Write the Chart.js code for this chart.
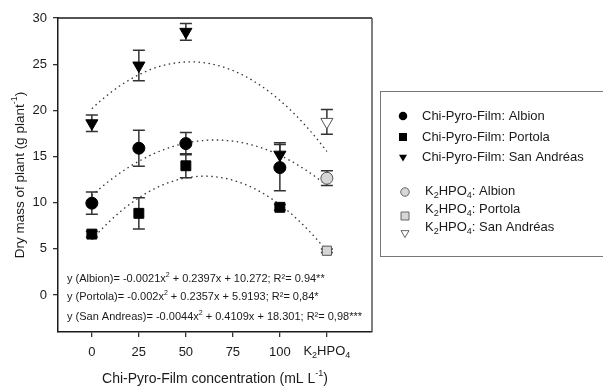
<!DOCTYPE html>
<html>
<head>
<meta charset="utf-8">
<title>Dry mass of plant</title>
<script src="https://cdn.jsdelivr.net/npm/chart.js@4.4.1/dist/chart.umd.min.js"></script>
<style>
  html, body { margin: 0; padding: 0; background: #fff; }
  #wrap { width: 603px; height: 387px; }
</style>
</head>
<body>
<div id="wrap"><canvas id="chart" width="603" height="387"></canvas></div>
<script>
// Chi-Pyro-Film doses (mL L-1); the K2HPO4 control gets its own slot at x = 125
const doses = [0, 25, 50, 100];
const controlX = 125;
const xTickValues = [0, 25, 50, 75, 100, 125];
const yTickValues = [0, 5, 10, 15, 20, 25, 30];

const albionMean = [9.95, 15.9, 16.4, 13.8];
const albionErr = [1.2, 1.95, 1.2, 2.5];
const portolaMean = [6.6, 8.85, 14.0, 9.5];
const portolaErr = [0.3, 1.7, 1.3, 0.3];
const sanAndreasMean = [18.6, 24.85, 28.5, 15.2];
const sanAndreasErr = [0.9, 1.65, 0.9, 1.3];

// K2HPO4 control, in order Albion, Portola, San Andreas
const controlMean = [12.65, 4.8, 18.75];
const controlErr = [0.8, 0.2, 1.35];

const legendLabels = [
  'Chi-Pyro-Film: Albion',
  'Chi-Pyro-Film: Portola',
  'Chi-Pyro-Film: San Andréas',
  'K_{2}HPO_{4}: Albion',
  'K_{2}HPO_{4}: Portola',
  'K_{2}HPO_{4}: San Andréas'
];

const equationLabels = [
  'y (Albion)= -0.0021x^{2} + 0.2397x + 10.272; R²= 0.94**',
  'y (Portola)= -0.002x^{2} + 0.2357x + 5.9193; R²= 0,84*',
  'y (San Andreas)= -0.0044x^{2} + 0.4109x + 18.301; R²= 0,98***'
];

const FONT = '"Liberation Sans", Arial, sans-serif';
const INK = '#1a1a1a';

// least squares quadratic through the plotted means (control included at x = 125)
function quadFit(xs, ys) {
  const S = [0, 0, 0, 0, 0], T = [0, 0, 0];
  xs.forEach((x, i) => {
    for (let k = 0; k < 5; k++) S[k] += Math.pow(x, k);
    for (let k = 0; k < 3; k++) T[k] += ys[i] * Math.pow(x, k);
  });
  const M = [[S[4], S[3], S[2]], [S[3], S[2], S[1]], [S[2], S[1], S[0]]];
  const R = [T[2], T[1], T[0]];
  const det = m => m[0][0] * (m[1][1] * m[2][2] - m[1][2] * m[2][1])
    - m[0][1] * (m[1][0] * m[2][2] - m[1][2] * m[2][0])
    + m[0][2] * (m[1][0] * m[2][1] - m[1][1] * m[2][0]);
  const d = det(M);
  return [0, 1, 2].map(c => det(M.map((row, r) => row.map((v, k) => (k === c ? R[r] : v)))) / d);
}

function fitLine(means, ctrl) {
  const [a, b, c] = quadFit(doses.concat([controlX]), means.concat([ctrl]));
  const pts = [];
  for (let x = 0; x <= controlX; x += 1) pts.push({ x, y: a * x * x + b * x + c });
  return pts;
}

const toPoints = means => doses.map((x, i) => ({ x, y: means[i] }));

// split 'K_{2}HPO_{4}' style markup into [text, 'sub' | 'sup' | null]
function parseRich(str) {
  const parts = [];
  const re = /([_^])\{([^}]*)\}/g;
  let last = 0, m;
  while ((m = re.exec(str))) {
    if (m.index > last) parts.push([str.slice(last, m.index), null]);
    parts.push([m[2], m[1] === '_' ? 'sub' : 'sup']);
    last = re.lastIndex;
  }
  if (last < str.length) parts.push([str.slice(last), null]);
  return parts;
}

function drawRich(ctx, str, x, y, size, align) {
  const parts = parseRich(str);
  const small = Math.round(size * 0.66);
  let total = 0;
  parts.forEach(p => {
    ctx.font = (p[1] ? small : size) + 'px ' + FONT;
    p.w = ctx.measureText(p[0]).width;
    total += p.w;
  });
  let cx = align === 'center' ? x - total / 2 : x;
  ctx.textAlign = 'left';
  ctx.textBaseline = 'middle';
  parts.forEach(p => {
    ctx.font = (p[1] ? small : size) + 'px ' + FONT;
    const dy = p[1] === 'sub' ? size * 0.32 : p[1] === 'sup' ? -size * 0.38 : 0;
    ctx.fillText(p[0], cx, y + dy);
    cx += p.w;
  });
}

function drawMarker(ctx, style, x, y, s, fill, stroke) {
  ctx.save();
  ctx.fillStyle = fill;
  ctx.strokeStyle = stroke;
  ctx.lineWidth = 1;
  ctx.beginPath();
  if (style === 'circle') {
    ctx.arc(x, y, s / 2, 0, Math.PI * 2);
  } else if (style === 'rect') {
    ctx.rect(x - s / 2, y - s / 2, s, s);
  } else {
    ctx.moveTo(x - s / 2, y - s * 0.42);
    ctx.lineTo(x + s / 2, y - s * 0.42);
    ctx.lineTo(x, y + s * 0.45);
    ctx.closePath();
  }
  ctx.fill();
  if (stroke !== fill) ctx.stroke();
  ctx.restore();
}

// error bars under the markers
const errorBars = {
  id: 'errorBars',
  beforeDatasetsDraw(chart) {
    const { ctx } = chart;
    const yScale = chart.scales.y;
    ctx.save();
    ctx.strokeStyle = '#333';
    ctx.lineWidth = 1.5;
    chart.data.datasets.forEach((ds, i) => {
      if (!ds.errors) return;
      chart.getDatasetMeta(i).data.forEach((pt, j) => {
        const v = ds.data[j].y, e = ds.errors[j];
        const top = yScale.getPixelForValue(v + e);
        const bot = yScale.getPixelForValue(v - e);
        ctx.beginPath();
        ctx.moveTo(pt.x, top); ctx.lineTo(pt.x, bot);
        ctx.moveTo(pt.x - 6, top); ctx.lineTo(pt.x + 6, top);
        ctx.moveTo(pt.x - 6, bot); ctx.lineTo(pt.x + 6, bot);
        ctx.stroke();
      });
    });
    ctx.restore();
  }
};

// frame, axis titles, K2HPO4 tick, equations and the boxed legend
const decor = {
  id: 'decor',
  afterDraw(chart) {
    const { ctx, chartArea: a } = chart;
    ctx.save();
    ctx.lineWidth = 1.5;
    ctx.strokeStyle = INK;
    ctx.beginPath();
    ctx.moveTo(a.left, a.top); ctx.lineTo(a.right, a.top);
    ctx.stroke();
    ctx.strokeStyle = '#555';
    ctx.beginPath();
    ctx.moveTo(a.right, a.top); ctx.lineTo(a.right, a.bottom);
    ctx.stroke();

    ctx.fillStyle = INK;
    drawRich(ctx, 'K_{2}HPO_{4}', chart.scales.x.getPixelForValue(controlX), 351, 13, 'center');
    drawRich(ctx, 'Chi-Pyro-Film concentration (mL L^{-1})', (a.left + a.right) / 2, 379, 14, 'center');
    ctx.save();
    ctx.translate(20, (a.top + a.bottom) / 2);
    ctx.rotate(-Math.PI / 2);
    drawRich(ctx, 'Dry mass of plant (g plant^{-1})', 0, 0, 13.5, 'center');
    ctx.restore();

    const eqY = [279, 297, 317];
    equationLabels.forEach((t, i) => drawRich(ctx, t, a.left + 9, eqY[i], 11, 'left'));

    // legend box runs off the right edge
    ctx.strokeStyle = '#777';
    ctx.lineWidth = 1;
    ctx.strokeRect(380.5, 91.5, 240, 165);
    const styles = ['circle', 'rect', 'triangle'];
    const textY = [116, 137, 157, 191, 209, 227];
    const markY = [116, 137, 158, 192, 216, 234];
    legendLabels.forEach((t, i) => {
      const ctrl = i >= 3;
      const st = styles[i % 3];
      const fill = ctrl ? (st === 'triangle' ? '#fff' : '#d6d6d6') : '#000';
      const stroke = ctrl ? '#666' : '#000';
      drawMarker(ctx, st, ctrl ? 405 : 403, markY[i], st === 'circle' ? 8.5 : 8, fill, stroke);
      ctx.fillStyle = INK;
      drawRich(ctx, t, ctrl ? 425 : 422, textY[i], 13, 'left');
    });
    ctx.restore();
  }
};

const fitStyle = {
  type: 'line',
  borderColor: '#333',
  borderWidth: 1.3,
  borderDash: [1.5, 3.5],
  pointRadius: 0,
  fill: false,
  order: 5
};

const chart = new Chart(document.getElementById('chart'), {
  type: 'scatter',
  data: {
    datasets: [
      { ...fitStyle, data: fitLine(sanAndreasMean, controlMean[2]) },
      { ...fitStyle, data: fitLine(albionMean, controlMean[0]) },
      { ...fitStyle, data: fitLine(portolaMean, controlMean[1]) },
      {
        label: 'Chi-Pyro-Film: Albion', data: toPoints(albionMean), errors: albionErr,
        pointStyle: 'circle', pointRadius: 6, backgroundColor: '#000', borderColor: '#000'
      },
      {
        label: 'Chi-Pyro-Film: Portola', data: toPoints(portolaMean), errors: portolaErr,
        pointStyle: 'rect', pointRadius: 7, backgroundColor: '#000', borderColor: '#000'
      },
      {
        label: 'Chi-Pyro-Film: San Andréas', data: toPoints(sanAndreasMean), errors: sanAndreasErr,
        pointStyle: 'triangle', rotation: 180, pointRadius: 7, backgroundColor: '#000', borderColor: '#000'
      },
      {
        label: 'K2HPO4: Albion', data: [{ x: controlX, y: controlMean[0] }], errors: [controlErr[0]],
        pointStyle: 'circle', pointRadius: 6, backgroundColor: '#d6d6d6', borderColor: '#555', borderWidth: 1
      },
      {
        label: 'K2HPO4: Portola', data: [{ x: controlX, y: controlMean[1] }], errors: [controlErr[1]],
        pointStyle: 'rect', pointRadius: 6.5, backgroundColor: '#d6d6d6', borderColor: '#555', borderWidth: 1
      },
      {
        label: 'K2HPO4: San Andréas', data: [{ x: controlX, y: controlMean[2] }], errors: [controlErr[2]],
        pointStyle: 'triangle', rotation: 180, pointRadius: 7, backgroundColor: '#fff', borderColor: '#555', borderWidth: 1
      }
    ]
  },
  options: {
    responsive: false,
    animation: false,
    events: [],
    layout: { padding: { top: 18, right: 231, left: 0, bottom: 0 } },
    plugins: { legend: { display: false }, tooltip: { enabled: false } },
    scales: {
      x: {
        type: 'linear',
        min: -18,
        max: 149,
        afterBuildTicks: s => { s.ticks = xTickValues.map(v => ({ value: v })); },
        afterFit: s => { s.height = 55; },
        grid: { drawOnChartArea: false, drawTicks: true, tickLength: 5, color: '#333', lineWidth: 1.3 },
        border: { display: true, color: INK, width: 1.5 },
        ticks: {
          callback: v => (v === controlX ? '' : v),
          font: { family: FONT, size: 13 },
          color: INK,
          padding: 8,
          maxRotation: 0,
          autoSkip: false
        }
      },
      y: {
        min: -4,
        max: 30,
        afterBuildTicks: s => { s.ticks = yTickValues.map(v => ({ value: v })); },
        afterFit: s => { s.width = 58; },
        grid: { drawOnChartArea: false, drawTicks: true, tickLength: 5, color: '#333', lineWidth: 1.3 },
        border: { display: true, color: INK, width: 1.5 },
        ticks: {
          font: { family: FONT, size: 13 },
          color: INK,
          padding: 6
        }
      }
    }
  },
  plugins: [errorBars, decor]
});
</script>
</body>
</html>
